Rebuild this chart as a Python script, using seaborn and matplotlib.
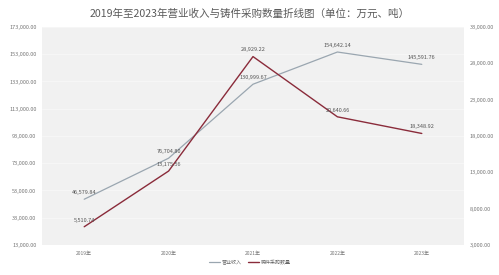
import matplotlib
matplotlib.use("Agg")
import matplotlib.pyplot as plt
import matplotlib.ticker as mticker
import seaborn as sns
import pandas as pd

years = ["2019年", "2020年", "2021年", "2022年", "2023年"]
revenue = [46579.84, 76704.80, 130999.67, 154642.14, 145591.76]
castings = [5510.74, 13175.56, 28929.22, 20640.66, 18348.92]
rev_name = "营业收入"
cast_name = "铸件采购数量"
title = "2019年至2023年营业收入与铸件采购数量折线图（单位：万元、吨）"

sns.set_theme(style="white")
plt.rcParams['font.family'] = ['Noto Sans CJK SC', 'DejaVu Sans']

df = pd.DataFrame({"year": years, rev_name: revenue, cast_name: castings})

fig = plt.figure(figsize=(4.99, 2.75), dpi=100)
ax = fig.add_axes([42/499, 1-245/275, (464-42)/499, (245-27)/275])
ax.set_facecolor("#f1f1f1")
ax2 = ax.twinx()

c_rev = "#9aa6b0"
c_cast = "#8a2b3a"

sns.lineplot(data=df, x="year", y=rev_name, ax=ax, color=c_rev, lw=0.9,
             label=rev_name, legend=False, sort=False)
sns.lineplot(data=df, x="year", y=cast_name, ax=ax2, color=c_cast, lw=1.0,
             label=cast_name, legend=False, sort=False)

ax.set_xlim(-0.5, 4.5)
ax.set_ylim(13000, 173000)
ax.set_yticks(range(13000, 173001, 20000))
ax2.set_ylim(3000, 33000)
ax2.set_yticks(range(3000, 33001, 5000))
fmt = mticker.FuncFormatter(lambda v, p: f"{v:,.2f}")
ax.yaxis.set_major_formatter(fmt)
ax2.yaxis.set_major_formatter(fmt)

ax.grid(axis="y", color="#f8f8f8", lw=0.6)
for a in (ax, ax2):
    for s in a.spines.values():
        s.set_visible(False)
    a.tick_params(length=0, pad=4, labelsize=4, colors="#777777")
    a.set_xlabel("")
    a.set_ylabel("")
ax.tick_params(axis="x", labelsize=3.6, pad=4)

for i, v in enumerate(revenue):
    ax.annotate(f"{v:,.2f}", (i, v), xytext=(0, 3), textcoords="offset points",
                ha="center", va="bottom", fontsize=4, color="#555555")
for i, v in enumerate(castings):
    ax2.annotate(f"{v:,.2f}", (i, v), xytext=(0, 3), textcoords="offset points",
                 ha="center", va="bottom", fontsize=4, color="#555555")

fig.text(0.5, 1-14/275, title, ha="center", va="center", fontsize=7.6, color="#5a5a5a")

h1, l1 = ax.get_legend_handles_labels()
h2, l2 = ax2.get_legend_handles_labels()
fig.legend(h1 + h2, l1 + l2, loc="center", bbox_to_anchor=(0.5, 1-262/275),
           ncol=2, frameon=False, fontsize=3.6, handlelength=2.2, handletextpad=0.4,
           columnspacing=1.2, labelcolor="#666666")

fig.savefig("out.png", dpi=100, facecolor="white")
